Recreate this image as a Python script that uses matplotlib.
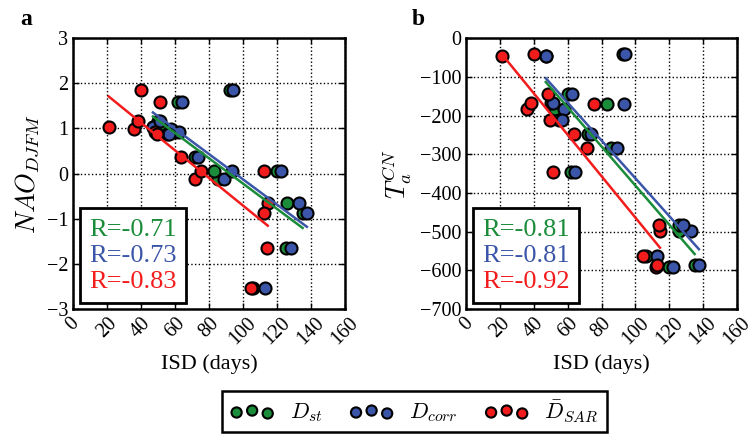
import numpy as np
import matplotlib
matplotlib.use('Agg')
from matplotlib import pyplot as plt


# ISD (days) per year for the three methods
isd_sar = [40, 51, 21, 36, 38.5, 48.5, 49.5, 63.5, 71.5, 75.5, 112, 114.5, 112.5, 114, 104.5]
isd_st = [92.5, 62, 47, 52.5, 50, 60, 55, 72, 85.5, 83, 120, 126, 135, 125.5, 106]
isd_corr = [94, 64, 47, 57.5, 51, 62.5, 56.5, 73.7, 89, 93.3, 122, 133, 137.5, 128, 113]

# response variables
nao = [1.85, 1.59, 1.04, 0.99, 1.16, 0.92, 0.88, 0.37, -0.11, 0.06, 0.05, -0.66, -0.88, -1.65, -2.54]
ta_cn = [-41, -346, -45, -184, -168, -144, -212, -248, -284, -170, -592, -497, -587, -483, -562]

r_nao = ['R=-0.71', 'R=-0.73', 'R=-0.83']
r_ta = ['R=-0.81', 'R=-0.81', 'R=-0.92']

labels = ['$D_{st}$', '$D_{corr}$', r'$\bar{D}_{SAR}$']
colors = ['#1a8c3a', '#3b56a8', '#f21c1c']

plt.rcParams['font.family'] = ['Liberation Serif', 'DejaVu Serif']
plt.rcParams['mathtext.fontset'] = 'cm'


def draw_panel(ax, y, r_text, ylim, yticks):
    xs = [isd_st, isd_corr, isd_sar]
    handles = []
    for x, c in zip(xs, colors):
        h = ax.scatter(x, y, s=75, c=c, edgecolors='k', linewidths=1.5, zorder=3)
        handles.append(h)
    for x, c in zip(xs, colors):
        x = np.array(x)
        k, b = np.polyfit(x, y, 1)
        xx = np.array([x.min(), x.max()])
        ax.plot(xx, k * xx + b, color=c, lw=1.8, zorder=4)

    ax.set_xlim(0, 160)
    ax.set_ylim(*ylim)
    ax.set_xticks(range(0, 161, 20))
    ax.set_yticks(yticks)
    ax.grid(True, color='k', linestyle=':', linewidth=1)
    ax.tick_params(direction='in', top=True, right=True, length=4, width=1,
                   labelsize=14.5)
    for lab in ax.get_xticklabels():
        lab.set_rotation(45)
    for sp in ax.spines.values():
        sp.set_linewidth(1.8)
    ax.set_xlabel('ISD (days)', fontsize=16)

    dummy = [plt.Line2D([], [], linestyle='none') for _ in r_text]
    leg = ax.legend(dummy, r_text, loc='lower left', labelcolor=colors,
                    handlelength=0, handletextpad=0, fontsize=19,
                    labelspacing=0.1, borderpad=0.35, fancybox=False,
                    framealpha=1, borderaxespad=0.25)
    leg.get_frame().set_edgecolor('k')
    leg.get_frame().set_linewidth(2)
    return handles


fig = plt.figure(figsize=(7.52, 4.43), dpi=100)
ax1 = fig.add_axes([0.097, 0.302, 0.362, 0.612])
ax2 = fig.add_axes([0.620, 0.302, 0.360, 0.612])

handles = draw_panel(ax1, nao, r_nao, (-3, 3), range(-3, 4))
ax1.set_ylabel('$NAO_{DJFM}$', fontsize=19)
draw_panel(ax2, ta_cn, r_ta, (-700, 0), range(-700, 1, 100))
ax2.set_ylabel('$T_a^{CN}$', fontsize=19)

fig.text(0.027, 0.955, 'a', fontsize=17, fontweight='bold', va='center')
fig.text(0.548, 0.955, 'b', fontsize=17, fontweight='bold', va='center')

leg = fig.legend(handles, labels, loc='lower center', ncol=3,
                 bbox_to_anchor=(0.551, 0.0), scatterpoints=3, fontsize=16,
                 markerscale=0.85, fancybox=False, framealpha=1,
                 handletextpad=0.7, columnspacing=1.2, borderpad=0.35)
leg.get_frame().set_edgecolor('k')
leg.get_frame().set_linewidth(1.8)

fig.savefig('out.png', dpi=100)
